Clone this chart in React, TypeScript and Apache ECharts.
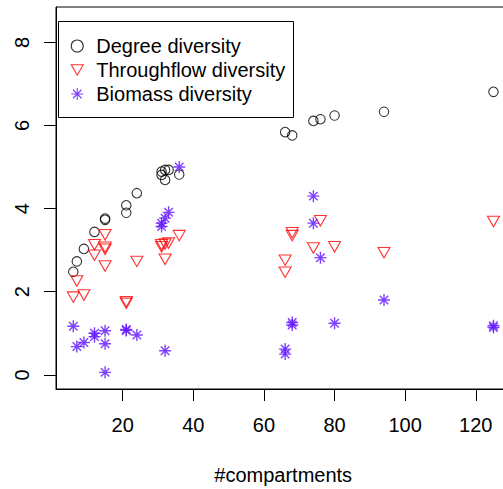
import React, { useEffect, useRef } from "react";
import * as echarts from "echarts";

// Number of compartments per network and the three diversity measures
const degreeX = [6, 7, 9, 12, 15, 15, 21, 21, 24, 31, 31, 32, 32, 33, 36, 66, 68, 74, 76, 80, 94, 125];
const degreeY = [2.48, 2.73, 3.03, 3.44, 3.76, 3.73, 4.08, 3.9, 4.37, 4.81, 4.89, 4.93, 4.69, 4.93, 4.82, 5.84, 5.76, 6.11, 6.15, 6.24, 6.33, 6.81];

const throughX = [6, 7, 9, 12, 12, 15, 15, 15, 15, 21, 21, 24, 31, 31, 32, 33, 32, 36, 66, 66, 68, 68, 74, 76, 80, 94, 125];
const throughY = [1.87, 2.26, 1.92, 3.13, 2.88, 3.37, 3.07, 3.02, 2.62, 1.76, 1.72, 2.73, 3.08, 3.13, 3.15, 3.17, 2.78, 3.35, 2.76, 2.47, 3.42, 3.35, 3.05, 3.71, 3.08, 2.94, 3.69];

const biomassX = [6, 7, 9, 12, 12, 15, 15, 15, 21, 21, 24, 31, 31, 32, 33, 32, 36, 66, 66, 68, 68, 74, 74, 76, 80, 94, 125, 125];
const biomassY = [1.17, 0.68, 0.78, 1.0, 0.92, 1.06, 0.75, 0.06, 1.09, 1.07, 0.96, 3.65, 3.57, 3.77, 3.91, 0.58, 5.0, 0.62, 0.5, 1.2, 1.26, 4.3, 3.65, 2.82, 1.24, 1.8, 1.18, 1.14];

const xTicks = [20, 40, 60, 80, 100, 120];
const yTicks = [0, 2, 4, 6, 8];

const seriesNames = ["Degree diversity", "Throughflow diversity", "Biomass diversity"];

const FONT = "'Liberation Sans', Arial, Helvetica, sans-serif";
const PURPLE = "#6010FF";
const ASTERISK = "path://M0,6L12,6M6,0L6,12M1.76,1.76L10.24,10.24M1.76,10.24L10.24,1.76";
const DOWN_TRIANGLE = "path://M0,0L12,0L6,10.5Z";

const zip = (xs: number[], ys: number[]) => xs.map((x, i) => [x, ys[i]]);

export default function App() {
  const ref = useRef<HTMLDivElement>(null);

  useEffect(() => {
    if (!ref.current) return;
    const chart = echarts.init(ref.current, undefined, { renderer: "svg" });
    chart.setOption({
      animation: false,
      backgroundColor: "#ffffff",
      textStyle: { fontFamily: FONT },
      grid: {
        left: 56,
        top: 7,
        right: -7.4,
        bottom: 100,
        show: true,
        borderColor: "#000",
        borderWidth: 1,
        backgroundColor: "transparent",
        containLabel: false,
        outerBoundsMode: "none",
      },
      xAxis: {
        type: "value",
        min: 1.1,
        max: 129.8,
        name: "#compartments",
        nameLocation: "middle",
        nameGap: 76,
        nameTextStyle: { fontSize: 20, color: "#000", fontFamily: FONT },
        axisLine: { show: true, onZero: false, lineStyle: { color: "#000", width: 1 } },
        axisTick: { show: true, length: 12, customValues: xTicks, lineStyle: { color: "#000", width: 1 } },
        axisLabel: { customValues: xTicks, margin: 26, fontSize: 20, color: "#000", fontFamily: FONT },
        splitLine: { show: false },
      },
      yAxis: {
        type: "value",
        min: -0.34,
        max: 8.85,
        axisLine: { show: true, onZero: false, lineStyle: { color: "#000", width: 1 } },
        axisTick: { show: true, length: 12, customValues: yTicks, lineStyle: { color: "#000", width: 1 } },
        axisLabel: { customValues: yTicks, rotate: 90, margin: 24, fontSize: 20, color: "#000", fontFamily: FONT },
        splitLine: { show: false },
      },
      legend: {
        orient: "vertical",
        left: 70.7,
        top: 36,
        padding: 0,
        itemWidth: 12,
        itemHeight: 12,
        itemGap: 4,
        selectedMode: false,
        z: 10,
        itemStyle: { borderWidth: 1.1 },
        textStyle: { fontSize: 20, lineHeight: 20, color: "#000", fontFamily: FONT, padding: [0, 0, 0, 8] },
        data: [
          { name: seriesNames[0] },
          { name: seriesNames[1], icon: DOWN_TRIANGLE },
          { name: seriesNames[2] },
        ],
      },
      graphic: [
        {
          type: "rect",
          z: 5,
          shape: { x: 58.5, y: 21.5, width: 235, height: 96 },
          style: { fill: "#fff", stroke: "#000", lineWidth: 1 },
        },
      ],
      series: [
        {
          type: "scatter",
          name: seriesNames[0],
          data: zip(degreeX, degreeY),
          symbol: "circle",
          symbolSize: 9.5,
          itemStyle: { color: "rgba(0,0,0,0)", borderColor: "#000", borderWidth: 1.1 },
          emphasis: { disabled: true },
        },
        {
          type: "scatter",
          name: seriesNames[1],
          data: zip(throughX, throughY),
          symbol: "triangle",
          symbolSize: [12, 10.5],
          symbolRotate: 180,
          itemStyle: { color: "rgba(0,0,0,0)", borderColor: "#ff0000", borderWidth: 1.1 },
          emphasis: { disabled: true },
        },
        {
          type: "scatter",
          name: seriesNames[2],
          data: zip(biomassX, biomassY),
          symbol: ASTERISK,
          symbolSize: 12,
          itemStyle: { color: "rgba(0,0,0,0)", borderColor: PURPLE, borderWidth: 1.4 },
          emphasis: { disabled: true },
        },
      ],
    });
    return () => chart.dispose();
  }, []);

  return (
    <div
      ref={ref}
      style={{ position: "fixed", left: 0, top: 0, width: 503, height: 489 }}
    />
  );
}
